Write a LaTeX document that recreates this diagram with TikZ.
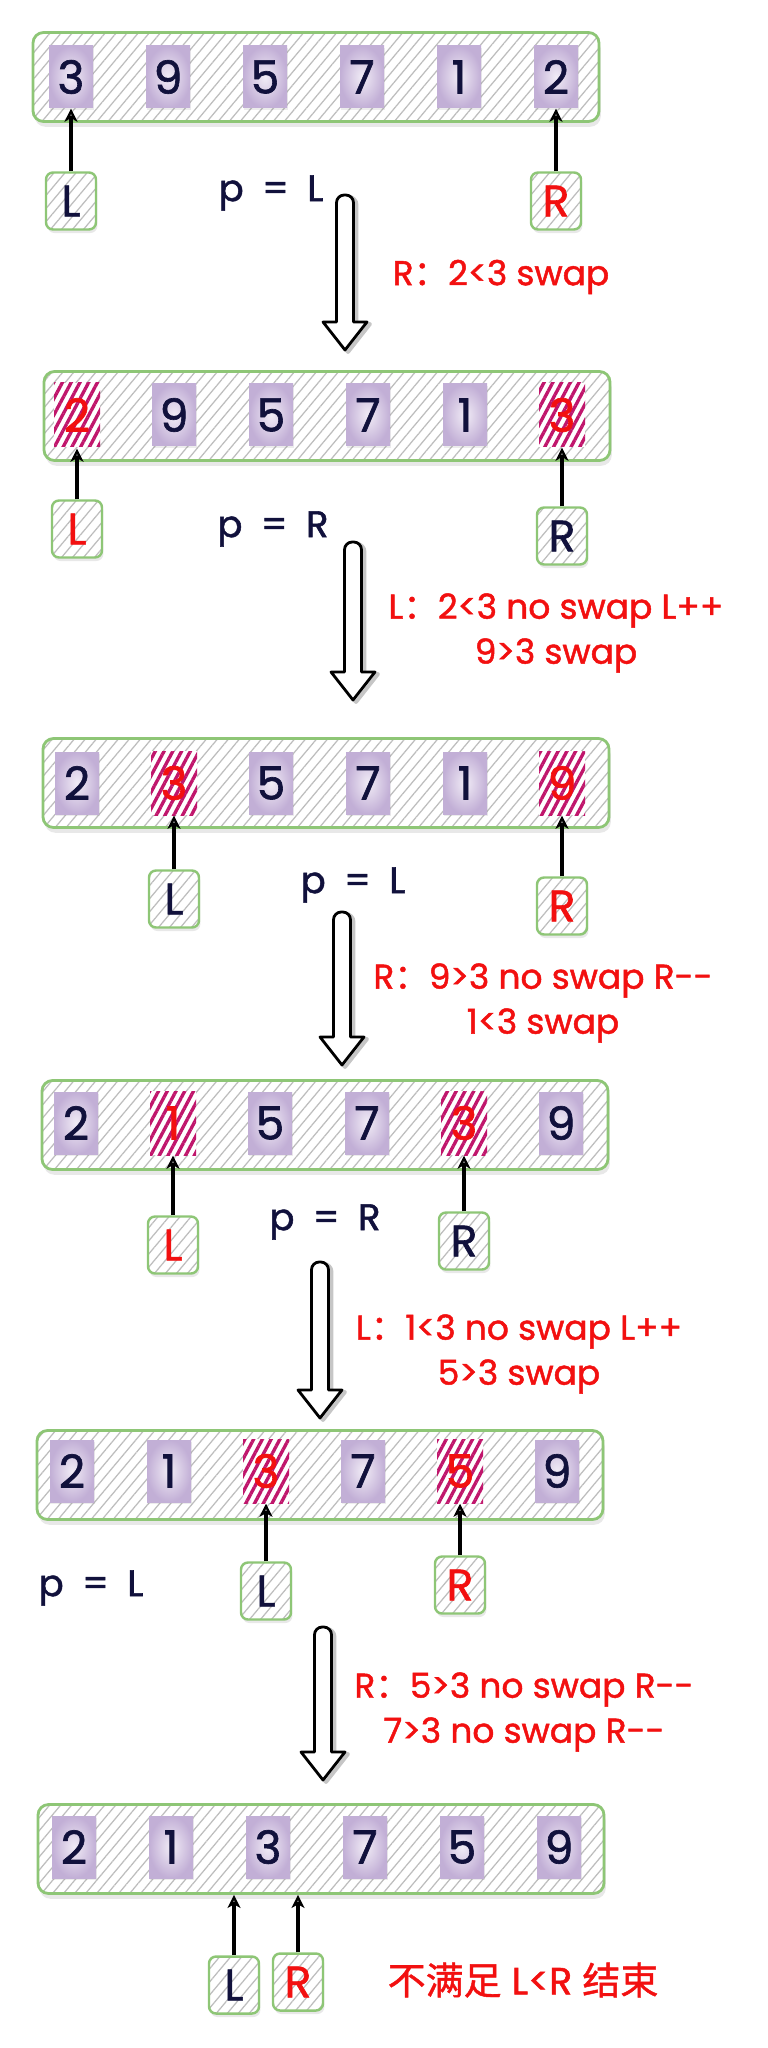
\documentclass[tikz,border=0pt]{standalone}
\usepackage{fontspec}
\setmainfont{Poppins}[FakeBold=1.4]
\newfontfamily\cjk{Noto Sans CJK SC}[FakeBold=1.2]
\usetikzlibrary{arrows.meta,patterns.meta,shadows}

\definecolor{ink}{HTML}{11113C}
\definecolor{alert}{HTML}{F21010}
\definecolor{lavender}{HTML}{C2AFD6}
\definecolor{lavlight}{HTML}{F1ECF6}
\definecolor{hatchred}{HTML}{C0166C}
\definecolor{boxgreen}{HTML}{8EC676}
\definecolor{hatchgray}{HTML}{BDBDBD}

\tikzset{
  row/.style={drop shadow={shadow xshift=0.5pt,shadow yshift=-1.5pt,opacity=0.18},
    preaction={fill=white}, rounded corners=3pt, draw=boxgreen, line width=0.8pt,
    pattern={Lines[angle=50,distance=2.4pt,line width=0.35pt]}, pattern color=hatchgray,
    minimum width=5.66cm, minimum height=0.89cm},
  cell/.style={drop shadow={shadow xshift=0.4pt,shadow yshift=-0.5pt,opacity=0.15},
    inner sep=0pt, minimum width=0.44cm, minimum height=0.62cm,
    inner color=lavlight, outer color=lavender, text=ink,
    font=\fontsize{13}{13}\selectfont},
  hot/.style={inner sep=0pt, minimum width=0.46cm, minimum height=0.64cm,
    preaction={fill=white},
    pattern={Lines[angle=62,distance=2.2pt,line width=0.95pt]}, pattern color=hatchred,
    text=alert, font=\fontsize{13}{13}\selectfont},
  ptrbox/.style={drop shadow={shadow xshift=0.4pt,shadow yshift=-1pt,opacity=0.18},
    preaction={fill=white}, rounded corners=2pt, draw=boxgreen, line width=0.7pt,
    pattern={Lines[angle=50,distance=2.4pt,line width=0.35pt]}, pattern color=hatchgray,
    inner sep=0pt, minimum width=0.5cm, minimum height=0.57cm, text=ink,
    font=\fontsize{12.5}{12.5}\selectfont},
  ptr/.style={-{Stealth[open,length=1.3mm,width=1.3mm,inset=0.35mm]}, line width=0.9pt},
  plabel/.style={text=ink, font=\fontsize{10.5}{12}\selectfont},
  note/.style={text=alert, align=center, font=\fontsize{9.8}{12.8}\selectfont},
  flow/.style={draw=black, fill=white, line width=0.8pt, line join=round},
  flowshade/.style={draw=gray!45, line width=1.1pt, line join=round}
}

% hollow down arrow: x, top, tip
\newcommand{\downflow}[3]{%
  \draw[flowshade, shift={(3,2)}] (#1-22,#3-28) -- (#1-8.5,#3-28) [rounded corners=2.2pt] -- (#1-8.5,#2)
    -- (#1+8.5,#2) [sharp corners] -- (#1+8.5,#3-28) -- (#1+22,#3-28) -- (#1,#3) -- cycle;
  \draw[flow] (#1-22,#3-28) -- (#1-8.5,#3-28) [rounded corners=2.2pt] -- (#1-8.5,#2)
    -- (#1+8.5,#2) [sharp corners] -- (#1+8.5,#3-28) -- (#1+22,#3-28) -- (#1,#3) -- cycle;
}

\begin{document}
\begin{tikzpicture}[x=0.1mm,y=-0.1mm]
\useasboundingbox (0,0) rectangle (767,2048);

% step 1
\node[row] (rowa) at (316,77) {};
\foreach \v/\s [count=\i] in {3/cell,9/cell,5/cell,7/cell,1/cell,2/cell}
  \node[\s] (a\i) at ({71+97*(\i-1)},77) {\v};
\node[ptrbox] (aL) at (71,201) {L};
\node[ptrbox, text=alert] (aR) at (556,201) {R};
\draw[ptr] (aL) -- (a1);
\draw[ptr] (aR) -- (a6);
\node[plabel] (pa) at (271,193) {p\enspace=\enspace L};
\downflow{345}{195}{350}
\node[note] (na) at (501,277) {R{\cjk ：}2<3 swap};

% step 2
\node[row] (rowb) at (327,416) {};
\foreach \v/\s [count=\i] in {2/hot,9/cell,5/cell,7/cell,1/cell,3/hot}
  \node[\s] (b\i) at ({77+97*(\i-1)},415) {\v};
\node[ptrbox, text=alert] (bL) at (77,529) {L};
\node[ptrbox] (bR) at (562,536) {R};
\draw[ptr] (bL) -- (b1);
\draw[ptr] (bR) -- (b6);
\node[plabel] (pb) at (273,529) {p\enspace=\enspace R};
\downflow{353}{542}{700}
\node[note] (nb) at (556,633) {L{\cjk ：}2<3 no swap L++\\9>3 swap};

% step 3
\node[row] (rowc) at (326,783) {};
\foreach \v/\s [count=\i] in {2/cell,3/hot,5/cell,7/cell,1/cell,9/hot}
  \node[\s] (c\i) at ({77+97*(\i-1)},783) {\v};
\node[ptrbox] (cL) at (174,899) {L};
\node[ptrbox, text=alert] (cR) at (562,906) {R};
\draw[ptr] (cL) -- (c2);
\draw[ptr] (cR) -- (c6);
\node[plabel] (pc) at (353,885) {p\enspace=\enspace L};
\downflow{342}{912}{1065}
\node[note] (nc) at (543,1003) {R{\cjk ：}9>3 no swap R-{}-\\1<3 swap};

% step 4
\node[row] (rowd) at (325,1125) {};
\foreach \v/\s [count=\i] in {2/cell,1/hot,5/cell,7/cell,3/hot,9/cell}
  \node[\s] (d\i) at ({76+97*(\i-1)},1123) {\v};
\node[ptrbox, text=alert] (dL) at (173,1245) {L};
\node[ptrbox] (dR) at (464,1241) {R};
\draw[ptr] (dL) -- (d2);
\draw[ptr] (dR) -- (d5);
\node[plabel] (pd) at (325,1222) {p\enspace=\enspace R};
\downflow{320}{1262}{1418}
\node[note] (nd) at (519,1354) {L{\cjk ：}1<3 no swap L++\\5>3 swap};

% step 5
\node[row] (rowe) at (320,1475) {};
\foreach \v/\s [count=\i] in {2/cell,1/cell,3/hot,7/cell,5/hot,9/cell}
  \node[\s] (e\i) at ({72+97*(\i-1)},1471) {\v};
\node[ptrbox] (eL) at (266,1591) {L};
\node[ptrbox, text=alert] (eR) at (460,1585) {R};
\draw[ptr] (eL) -- (e3);
\draw[ptr] (eR) -- (e5);
\node[plabel] (pe) at (91,1588) {p\enspace=\enspace L};
\downflow{323}{1627}{1780}
\node[note] (ne) at (524,1712) {R{\cjk ：}5>3 no swap R-{}-\\7>3 no swap R-{}-};

% end
\node[row] (rowf) at (321,1849) {};
\foreach \v [count=\i] in {2,1,3,7,5,9}
  \node[cell] (f\i) at ({74+97*(\i-1)},1847) {\v};
\node[ptrbox] (fL) at (234,1985) {L};
\node[ptrbox, text=alert] (fR) at (298,1982) {R};
\draw[ptr] (fL) -- (fL |- rowf.south);
\draw[ptr] (fR) -- (fR |- rowf.south);
\node[note, font=\fontsize{10.8}{12}\selectfont] (nf) at (523,1980) {{\cjk 不满足} L<R {\cjk 结束}};
\end{tikzpicture}
\end{document}
